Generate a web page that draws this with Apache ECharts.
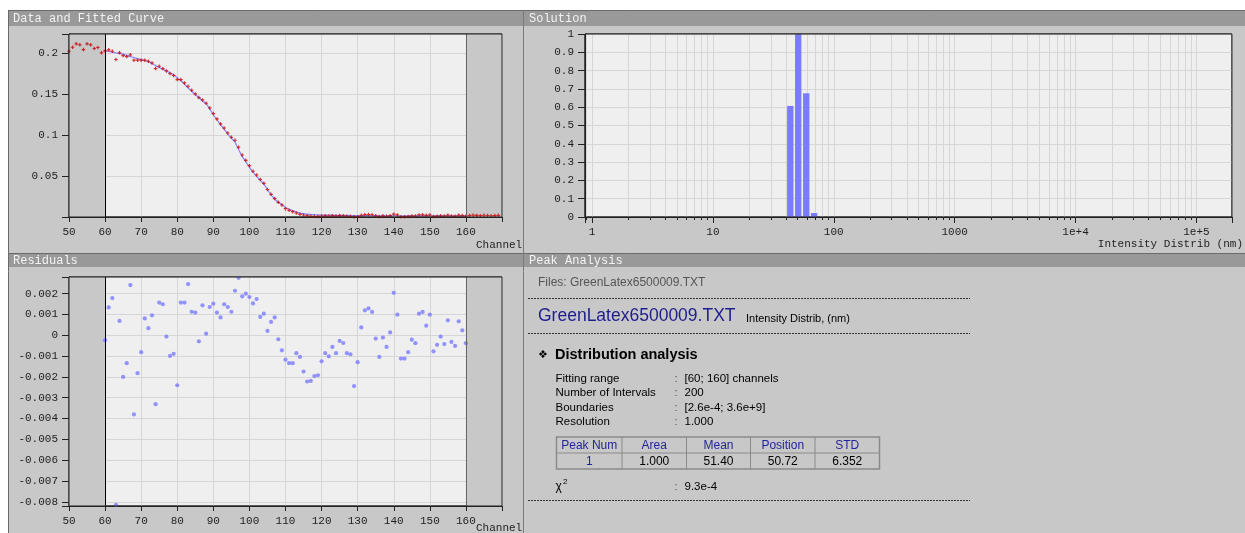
<!DOCTYPE html>
<html>
<head>
    <meta charset="utf-8">
    <script src="https://cdn.jsdelivr.net/npm/echarts@6/dist/echarts.min.js"></script>
</head>
<body style="margin: 0; background: #fff">
    <div id="container" style="width: 1245px; height: 533px"></div>
    <script type="text/javascript">
        // ---- data ----
        var firstChannel = 50;     // measured curve starts at channel 50
        var firstFitChannel = 60;  // fit and residuals cover channels 60..160

        // measured correlation data, channels 50..169
        var measured = [
            0.2020, 0.2069, 0.2110, 0.2098, 0.2040, 0.2110, 0.2098, 0.2053, 0.2065, 0.2000,
            0.2024, 0.2037, 0.2020, 0.1919, 0.2000, 0.1967, 0.1955, 0.1976, 0.1911, 0.1911,
            0.1911, 0.1911, 0.1898, 0.1878, 0.1809, 0.1837, 0.1809, 0.1780, 0.1748, 0.1724,
            0.1675, 0.1675, 0.1634, 0.1593, 0.1545, 0.1500, 0.1455, 0.1427, 0.1386, 0.1329,
            0.1260, 0.1195, 0.1134, 0.1085, 0.1024, 0.0972, 0.0935, 0.0850, 0.0756, 0.0691,
            0.0626, 0.0557, 0.0512, 0.0457, 0.0410, 0.0335, 0.0276, 0.0224, 0.0179, 0.0146,
            0.0102, 0.0081, 0.0065, 0.0049, 0.0033, 0.0024, 0.0016, 0.0010, 0.0008, 0.0007,
            0.0011, 0.0014, 0.0012, 0.0016, 0.0012, 0.0017, 0.0015, 0.0010, 0.0009, 0.0003,
            0.0004, 0.0021, 0.0028, 0.0029, 0.0027, 0.0014, 0.0005, 0.0014, 0.0009, 0.0016,
            0.0035, 0.0025, 0.0004, 0.0004, 0.0007, 0.0013, 0.0011, 0.0025, 0.0026, 0.0020,
            0.0025, 0.0007, 0.0010, 0.0014, 0.0011, 0.0022, 0.0012, 0.0010, 0.0022, 0.0017,
            0.0011, 0.0018, 0.0022, 0.0019, 0.0016, 0.0021, 0.0018, 0.0015, 0.0017, 0.0020
        ];

        // fitted curve, channels 60..160
        var fitted = [
            0.2025, 0.2020, 0.2008, 0.2000, 0.1993, 0.1984, 0.1970, 0.1955, 0.1944, 0.1930,
            0.1918, 0.1904, 0.1893, 0.1870, 0.1845, 0.1822, 0.1797, 0.1780, 0.1757, 0.1732,
            0.1698, 0.1660, 0.1620, 0.1572, 0.1533, 0.1490, 0.1457, 0.1414, 0.1383, 0.1316,
            0.1246, 0.1185, 0.1125, 0.1070, 0.1011, 0.0962, 0.0913, 0.0823, 0.0738, 0.0672,
            0.0608, 0.0543, 0.0495, 0.0448, 0.0400, 0.0335, 0.0271, 0.0217, 0.0180, 0.0152,
            0.0115, 0.0094, 0.0077, 0.0060, 0.0047, 0.0040, 0.0036, 0.0031, 0.0028, 0.0026,
            0.0024, 0.0023, 0.0022, 0.0022, 0.0021, 0.0020, 0.0019, 0.0019, 0.0018, 0.0018,
            0.0017, 0.0017, 0.0016, 0.0016, 0.0016, 0.0016, 0.0015, 0.0015, 0.0015, 0.0015,
            0.0015, 0.0015, 0.0015, 0.0015, 0.0015, 0.0015, 0.0015, 0.0015, 0.0015, 0.0015,
            0.0015, 0.0015, 0.0015, 0.0015, 0.0015, 0.0015, 0.0015, 0.0015, 0.0015, 0.0015,
            0.0015
        ];

        // residuals, channels 60..160
        var residuals = [
            -0.00024, 0.00134, 0.00179, -0.00815, 0.00069, -0.00200, -0.00134, 0.00241, -0.00380, -0.00182,
            -0.00081, 0.00081, 0.00034, 0.00096, -0.00331, 0.00157, 0.00149, -0.00006, -0.00099, -0.00089,
            -0.00240, 0.00157, 0.00157, 0.00246, 0.00113, 0.00109, -0.00029, 0.00144, 0.00008, 0.00136,
            0.00152, 0.00109, 0.00086, 0.00149, 0.00136, 0.00113, 0.00214, 0.00276, 0.00187, 0.00200,
            0.00184, 0.00153, 0.00174, 0.00088, 0.00104, 0.00021, 0.00064, 0.00086, -0.00019, -0.00072,
            -0.00117, -0.00134, -0.00134, -0.00086, -0.00104, -0.00174, -0.00222, -0.00219, -0.00196, -0.00192,
            -0.00125, -0.00086, -0.00101, -0.00056, -0.00086, -0.00027, -0.00037, -0.00086, -0.00091, -0.00244,
            -0.00129, 0.00038, 0.00120, 0.00129, 0.00112, -0.00016, -0.00104, -0.00011, -0.00056, 0.00014,
            0.00204, 0.00099, -0.00112, -0.00112, -0.00081, -0.00021, -0.00038, 0.00104, 0.00112, 0.00046,
            0.00099, -0.00077, -0.00046, -0.00006, -0.00042, 0.00072, -0.00032, -0.00051, 0.00067, 0.00024,
            -0.00038
        ];

        // solution: intensity distribution, log spaced bins (nm)
        var binCenters = [43.7, 50.8, 59.2, 68.8];
        var binHeights = [0.607, 1.0, 0.676, 0.022];
        var boundaries = [2.6e-4, 3.6e9];
        var numIntervals = 200;

        // peak analysis text
        var fileName = 'GreenLatex6500009.TXT';
        var infoLabels = ['Fitting range', 'Number of Intervals', 'Boundaries', 'Resolution'];
        var infoValues = ['[60; 160] channels', '200', '[2.6e-4; 3.6e+9]', '1.000'];
        var peakHeader = ['Peak Num', 'Area', 'Mean', 'Position', 'STD'];
        var peakRow = ['1', '1.000', '51.40', '50.72', '6.352'];
        var chiSquare = '9.3e-4';

        // ---- layout ----
        var G1 = { left: 69, top: 34, width: 433, height: 183 };   // data + fit
        var G2 = { left: 69, top: 277, width: 433, height: 229 };  // residuals
        var G3 = { left: 585, top: 34, width: 647, height: 183 };  // solution

        var MONO = '"Liberation Mono", "DejaVu Sans Mono", monospace';
        var SANS = '"Liberation Sans", Arial, sans-serif';
        var labelColor = '#1e1e1e';
        var splitColor = '#d6d6d6';

        var myChart = echarts.init(document.getElementById('container'));

        var measuredPts = measured.map(function (v, i) { return [firstChannel + i, v]; });
        var fittedPts = fitted.map(function (v, i) { return [firstFitChannel + i, v]; });
        var residualPts = residuals.map(function (v, i) { return [firstFitChannel + i, v]; });
        var binData = binCenters.map(function (c, i) { return [c, binHeights[i]]; });
        var binDecades = Math.log10(boundaries[1] / boundaries[0]) / numIntervals;

        // minor log grid positions 2..9 x 10^n inside the axis range
        var logMin = 0.875, logMax = 1.97e5;
        var logMinorTicks = [];
        [0.1, 1, 10, 100, 1000, 10000].forEach(function (d) {
            for (var k = 2; k <= 9; k++) {
                var v = k * d;
                if (v >= logMin && v <= logMax) logMinorTicks.push([v, 0]);
            }
        });

        function channelAxis(gridIndex) {
            return {
                type: 'value', gridIndex: gridIndex, min: 50, max: 170, interval: 10,
                axisLine: { show: true, onZero: false, lineStyle: { color: '#222' } },
                axisTick: { show: true, length: 5, lineStyle: { color: '#222' } },
                axisLabel: {
                    margin: 10, color: labelColor, fontFamily: MONO, fontSize: 11,
                    formatter: function (v) { return v >= 170 ? '' : String(v); }
                },
                splitLine: { show: true, lineStyle: { color: splitColor, width: 1 } }
            };
        }

        function valueAxis(gridIndex, min, max, extra) {
            var ax = {
                type: 'value', gridIndex: gridIndex, min: min, max: max,
                axisLine: { show: true, onZero: false, lineStyle: { color: '#222' } },
                axisTick: { show: true, length: 7, lineStyle: { color: '#222' } },
                axisLabel: { margin: 11, color: labelColor, fontFamily: MONO, fontSize: 11 },
                splitLine: { show: true, lineStyle: { color: splitColor, width: 1 } }
            };
            return echarts.util.merge(ax, extra, true);
        }

        // shaded "outside fitting range" areas and the range borders
        var outsideArea = {
            silent: true,
            itemStyle: { color: '#c8c8c8', opacity: 1 },
            data: [[{ xAxis: 50 }, { xAxis: 60 }], [{ xAxis: 160 }, { xAxis: 170 }]]
        };
        var rangeLines = {
            silent: true, symbol: 'none', label: { show: false },
            lineStyle: { type: 'solid', width: 1 },
            data: [
                { xAxis: 60, lineStyle: { color: '#000' } },
                { xAxis: 160, lineStyle: { color: '#666' } }
            ]
        };

        // ---- panels, titles and the peak analysis text ----
        function rect(x, y, w, h, fill, z) {
            return { type: 'rect', silent: true, z: z, shape: { x: x, y: y, width: w, height: h }, style: { fill: fill } };
        }
        function frame(g) {
            return { type: 'rect', silent: true, z: 50, shape: { x: g.left, y: g.top, width: g.width, height: g.height }, style: { fill: 'none', stroke: '#222', lineWidth: 1 } };
        }
        function line(x1, y1, x2, y2, color, dash, z) {
            return { type: 'line', silent: true, z: z || 60, shape: { x1: x1, y1: y1, x2: x2, y2: y2 }, style: { stroke: color, lineWidth: 1, lineDash: dash || null } };
        }
        function txt(x, y, s, font, fill, align) {
            return {
                type: 'text', silent: true, z: 100, x: x, y: y,
                style: {
                    text: s, font: font, fill: fill || '#000',
                    align: align || 'left', verticalAlign: 'middle',
                    textAlign: align || 'left', textVerticalAlign: 'middle'
                }
            };
        }

        var graphics = [
            rect(8, 10, 1237, 523, '#c8c8c8', -20),
            rect(8, 10, 515, 16, '#999999', -10),
            rect(524, 10, 721, 16, '#999999', -10),
            rect(8, 253, 515, 14, '#999999', -10),
            rect(524, 253, 721, 14, '#999999', -10),
            line(8, 10.5, 1245, 10.5, '#6a6a6a', null, -5),
            line(8, 253.5, 1245, 253.5, '#6a6a6a', null, -5),
            line(8.5, 10, 8.5, 533, '#6a6a6a', null, -5),
            line(523.5, 10, 523.5, 533, '#7a7a7a', null, -5),
            txt(13, 18.5, 'Data and Fitted Curve', '12px ' + MONO, '#f4f4f4'),
            txt(529, 18.5, 'Solution', '12px ' + MONO, '#f4f4f4'),
            txt(13, 260.5, 'Residuals', '12px ' + MONO, '#f4f4f4'),
            txt(529, 260.5, 'Peak Analysis', '12px ' + MONO, '#f4f4f4'),
            frame(G1), frame(G2), frame(G3),
            txt(476, 245, 'Channel', '11px ' + MONO, labelColor),
            txt(476, 528.5, 'Channel', '11px ' + MONO, labelColor),
            txt(1243, 244.5, 'Intensity Distrib (nm)', '11px ' + MONO, labelColor, 'right'),

            txt(538, 283, 'Files: ' + fileName, '12px ' + SANS, '#555'),
            line(528, 298.5, 970, 298.5, '#333', [2, 1]),
            txt(538, 316.5, fileName, '17.5px ' + SANS, '#1e1e8c'),
            txt(746, 319, 'Intensity Distrib, (nm)', '11px ' + SANS, '#000'),
            line(528, 333.5, 970, 333.5, '#333', [2, 1]),
            txt(538, 355.5, '\u2756', '11px "DejaVu Sans", sans-serif', '#000'),
            txt(555, 355, 'Distribution analysis', 'bold 14.5px ' + SANS, '#000'),
            txt(555.5, 487, '\u03c7', '12px ' + SANS, '#000'),
            txt(563, 482, '2', '8px ' + SANS, '#000'),
            txt(674.5, 487, ':', '11.5px ' + SANS, '#555'),
            txt(684.5, 487, chiSquare, '11.5px ' + SANS, '#000'),
            line(528, 500.5, 970, 500.5, '#333', [2, 1])
        ];
        infoLabels.forEach(function (s, i) {
            var y = 378.5 + i * 14.5;
            graphics.push(txt(555.5, y, s, '11.5px ' + SANS, '#000'));
            graphics.push(txt(674.5, y, ':', '11.5px ' + SANS, '#555'));
            graphics.push(txt(684.5, y, infoValues[i], '11.5px ' + SANS, '#000'));
        });
        // peak table
        var colEdges = [556.5, 622, 686.5, 750.5, 815, 879.5];
        var rowTop = 437, rowMid = 453, rowBottom = 469;
        graphics.push({ type: 'rect', silent: true, z: 60, shape: { x: colEdges[0], y: rowTop, width: colEdges[5] - colEdges[0], height: rowBottom - rowTop }, style: { fill: 'none', stroke: '#8a8a8a', lineWidth: 1.5 } });
        graphics.push(line(colEdges[0], rowMid, colEdges[5], rowMid, '#8a8a8a'));
        for (var c = 1; c < colEdges.length - 1; c++) {
            graphics.push(line(colEdges[c], rowTop, colEdges[c], rowBottom, '#8a8a8a'));
        }
        peakHeader.forEach(function (s, i) {
            var cx = (colEdges[i] + colEdges[i + 1]) / 2;
            graphics.push(txt(cx, (rowTop + rowMid) / 2 + 0.5, s, '12px ' + SANS, '#24249a', 'center'));
            graphics.push(txt(cx, (rowMid + rowBottom) / 2 + 0.5, peakRow[i], '12px ' + SANS, i === 0 ? '#24249a' : '#000', 'center'));
        });

        var gridBase = { show: true, backgroundColor: '#efefef', borderColor: '#222', borderWidth: 1, containLabel: false, outerBoundsMode: 'none' };

        var option = {
            animation: false,
            backgroundColor: '#fff',
            grid: [
                echarts.util.extend(echarts.util.clone(gridBase), G1),
                echarts.util.extend(echarts.util.clone(gridBase), G2),
                echarts.util.extend(echarts.util.clone(gridBase), G3)
            ],
            xAxis: [
                channelAxis(0),
                channelAxis(1),
                {
                    type: 'log', gridIndex: 2, logBase: 10, min: logMin, max: logMax,
                    axisLine: { show: true, onZero: false, lineStyle: { color: '#222' } },
                    axisTick: { show: true, length: 6, lineStyle: { color: '#222' } },
                    axisLabel: {
                        margin: 10, color: labelColor, fontFamily: MONO, fontSize: 11,
                        formatter: function (v) {
                            var l = Math.log10(v), e = Math.round(l);
                            if (Math.abs(l - e) > 1e-6) return '';
                            return e >= 4 ? '1e+' + e : String(Math.round(Math.pow(10, e)));
                        }
                    },
                    splitLine: { show: true, lineStyle: { color: splitColor, width: 1 } }
                }
            ],
            yAxis: [
                valueAxis(0, 0, 0.223, {
                    splitNumber: 4,
                    axisLabel: {
                        formatter: function (v) {
                            var k = v / 0.05;
                            if (v <= 0 || Math.abs(k - Math.round(k)) > 1e-6) return '';
                            return String(Math.round(v * 100) / 100);
                        }
                    }
                }),
                valueAxis(1, -0.0082, 0.0028, {
                    splitNumber: 11,
                    axisLabel: {
                        formatter: function (v) {
                            var k = v * 1000;
                            if (Math.abs(k - Math.round(k)) > 1e-6) return '';
                            return String(Math.round(k) / 1000);
                        }
                    }
                }),
                valueAxis(2, 0, 1, { interval: 0.1 })
            ],
            series: [
                {
                    name: 'Fit', type: 'line', xAxisIndex: 0, yAxisIndex: 0, z: 2,
                    data: fittedPts, showSymbol: false, symbol: 'none',
                    lineStyle: { color: '#8585ff', width: 1.2 },
                    markArea: outsideArea, markLine: rangeLines
                },
                {
                    name: 'Data', type: 'scatter', xAxisIndex: 0, yAxisIndex: 0, z: 3,
                    data: measuredPts,
                    symbol: 'path://M1,0h1v1h1v1h-1v1h-1v-1h-1v-1h1z', symbolSize: 3.5,
                    itemStyle: { color: '#c80000' }
                },
                {
                    name: 'ResidualRange', type: 'line', xAxisIndex: 1, yAxisIndex: 1, z: 2,
                    data: residualPts, showSymbol: false, symbol: 'none',
                    lineStyle: { opacity: 0, width: 0 },
                    markArea: outsideArea, markLine: rangeLines
                },
                {
                    name: 'Residuals', type: 'scatter', xAxisIndex: 1, yAxisIndex: 1, z: 3,
                    data: residualPts, symbol: 'circle', symbolSize: 4.2,
                    itemStyle: { color: '#7b7bff' }
                },
                {
                    name: 'LogMinor', type: 'custom', xAxisIndex: 2, yAxisIndex: 2, z: 1, silent: true,
                    data: logMinorTicks,
                    renderItem: function (params, api) {
                        var x = Math.round(api.coord([api.value(0), 0])[0]) + 0.5;
                        var cs = params.coordSys;
                        return {
                            type: 'group', children: [
                                { type: 'line', shape: { x1: x, y1: cs.y, x2: x, y2: cs.y + cs.height }, style: { stroke: splitColor, lineWidth: 1 } },
                                { type: 'line', shape: { x1: x, y1: cs.y + cs.height, x2: x, y2: cs.y + cs.height + 3 }, style: { stroke: '#222', lineWidth: 1 } }
                            ]
                        };
                    }
                },
                {
                    name: 'Solution', type: 'custom', xAxisIndex: 2, yAxisIndex: 2, z: 2,
                    data: binData,
                    renderItem: function (params, api) {
                        var c = api.value(0), h = api.value(1);
                        var half = Math.pow(10, binDecades * 0.4);
                        var p0 = api.coord([c / half, 0]);
                        var p1 = api.coord([c * half, h]);
                        return {
                            type: 'rect',
                            shape: { x: p0[0], y: p1[1], width: p1[0] - p0[0], height: p0[1] - p1[1] },
                            style: { fill: '#7b7bff' }
                        };
                    }
                }
            ],
            graphic: { elements: graphics }
        };

        myChart.setOption(option);
    </script>
</body>
</html>
